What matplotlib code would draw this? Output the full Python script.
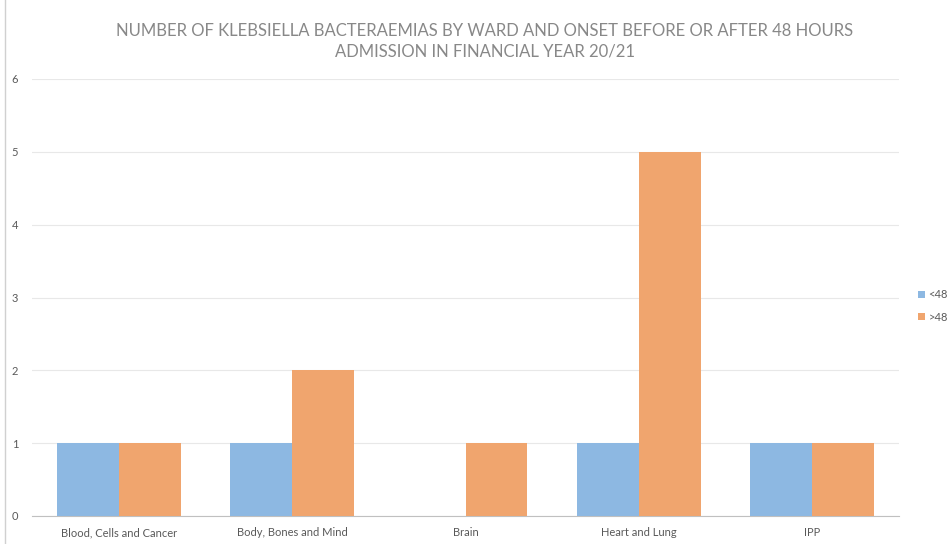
import numpy as np
import matplotlib.pyplot as plt
from matplotlib.lines import Line2D

# Klebsiella bacteraemias per ward, split by onset
wards = ['Blood, Cells and Cancer', 'Body, Bones and Mind', 'Brain', 'Heart and Lung', 'IPP']
under_48 = [1, 1, 0, 1, 1]
over_48 = [1, 2, 1, 5, 1]

blue = '#8db8e2'
orange = '#f0a56e'
text_grey = '#595959'

plt.rcParams['font.family'] = ['Lato', 'DejaVu Sans']

fig = plt.figure(figsize=(9.49, 5.44), dpi=100)
ax = fig.add_axes([32 / 949, 28 / 544, 867 / 949, 437 / 544])

x = np.arange(len(wards))
w = 0.357
ax.bar(x - w / 2, under_48, width=w, color=blue, label='<48', zorder=3)
ax.bar(x + w / 2, over_48, width=w, color=orange, label='>48', zorder=3)

ax.set_xlim(-0.5, len(wards) - 0.5)
ax.set_ylim(0, 6)
ax.set_yticks(range(0, 7))
ax.set_xticks(x)
ax.set_xticklabels(wards)
ax.grid(axis='y', color='#e8e8e8', linewidth=0.8, zorder=0)
ax.tick_params(axis='both', length=0, labelsize=8, colors=text_grey, pad=8)
ax.tick_params(axis='y', pad=10)
for side in ['top', 'right', 'left']:
    ax.spines[side].set_visible(False)
ax.spines['bottom'].set_color('#c0c0c0')

fig.text(0.511, 0.958, 'NUMBER OF KLEBSIELLA BACTERAEMIAS BY WARD AND ONSET BEFORE OR AFTER 48 HOURS\nADMISSION IN FINANCIAL YEAR 20/21',
         ha='center', va='top', fontsize=12, color='#888888', linespacing=1.35)

fig.legend(loc='center left', bbox_to_anchor=(914 / 949, 0.4375), frameon=False,
           fontsize=8, labelcolor=text_grey, handlelength=0.6, handleheight=0.6,
           handletextpad=0.3, labelspacing=1.0, borderaxespad=0)

fig.add_artist(Line2D([5 / 949, 5 / 949], [0, 1], transform=fig.transFigure, color='#d0d0d0', linewidth=1))

fig.savefig('out.png', dpi=100)
